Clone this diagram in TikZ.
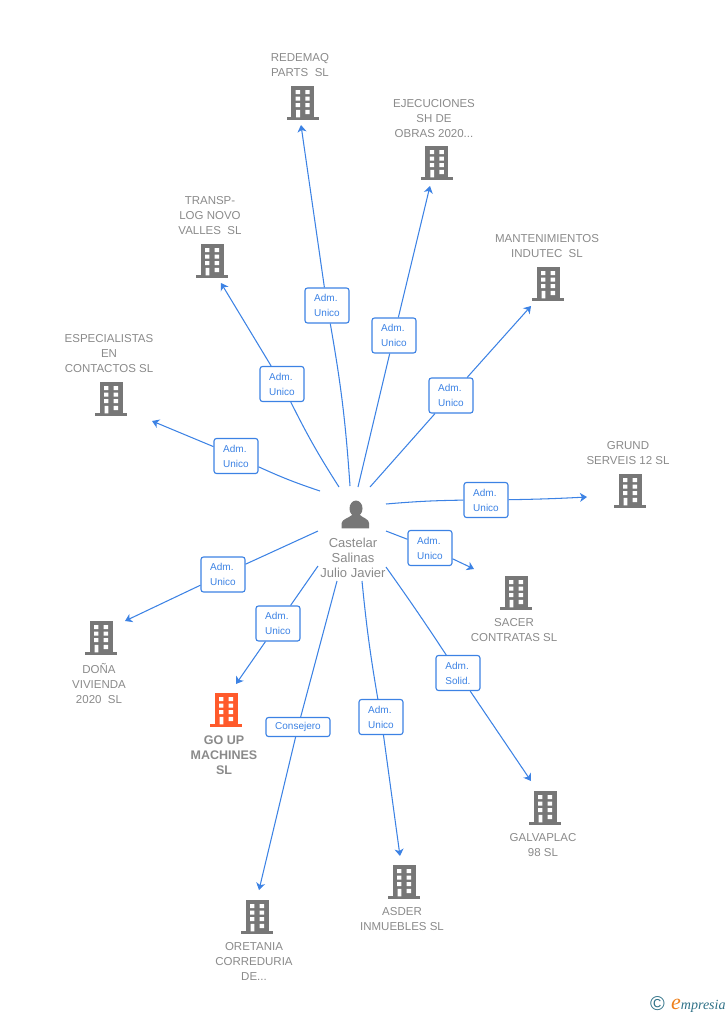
\documentclass[tikz,border=0pt]{standalone}
\usetikzlibrary{arrows.meta}
\usepackage{fontspec}
\setmainfont{Liberation Sans}
\newfontfamily\logofont{Liberation Serif}
\definecolor{linkblue}{HTML}{3C82E4}
\definecolor{firmgray}{HTML}{777777}
\definecolor{textgray}{HTML}{8A8A8A}
\definecolor{mainred}{HTML}{FF5A2B}
\definecolor{logoteal}{HTML}{2F7187}
\definecolor{logoorange}{HTML}{EE7F1A}
\tikzset{
    firm/.pic={
        \fill[pic actions] (-11.5,-33.8) rectangle (11.5,-2.7);
        \fill[pic actions] (-16,-2.7) rectangle (16,0);
        \fill[white] (-7,-29.8) rectangle (-2.7,-26) (2.6,-29.8) rectangle (7,-26);
        \fill[white] (-7,-23.4) rectangle (-2.7,-19.4) (2.6,-23.4) rectangle (7,-19.4);
        \fill[white] (-7,-16.9) rectangle (-2.7,-12.9) (2.6,-16.9) rectangle (7,-12.9);
        \fill[white] (-6.5,-10.2) rectangle (-2.7,-2.7) (2.6,-10.2) rectangle (7,-6);
    }
}
\begin{document}
\begin{tikzpicture}[
    x=1pt, y=-1pt,
    adm/.style={draw=linkblue, fill=white, rounded corners=2.5pt, line width=1.1pt, text=linkblue,
        minimum width=44pt, minimum height=35pt, inner sep=0pt, align=left,
        font=\fontsize{10}{15}\selectfont},
    cons/.style={adm, minimum width=64pt, minimum height=19pt},
    arr/.style={-{Stealth[length=7pt, width=9pt, inset=2pt]}, draw=linkblue, line width=1.05pt},
    lnk/.style={draw=linkblue, line width=1.05pt},
    firmname/.style={text=textgray, inner sep=0pt, align=center, font=\fontsize{11.5}{15}\selectfont},
]
    \useasboundingbox (0,0) rectangle (728,1015);

    % Person in the middle
    \fill[firmgray] (356,508.5) ellipse (6.5 and 8);
    \fill[firmgray] (341.7,528.3) -- (341.7,523) .. controls (342,519) and (349,518) .. (352,515)
        -- (360,515) .. controls (363,518) and (369,519) .. (369,523) -- (369,528.3) -- cycle;
    \node[firmname, font=\fontsize{13}{15}\selectfont] (boss) at (353,557.5) {Castelar\\Salinas\\Julio Javier};

    % Companies
    \pic[firmgray] (fa) at (302.7,120) {firm};
    \pic[firmgray] (fb) at (436.8,180) {firm};
    \pic[firmgray] (fc) at (548,301) {firm};
    \pic[firmgray] (fd) at (630,508) {firm};
    \pic[firmgray] (fe) at (516,610) {firm};
    \pic[firmgray] (ff) at (545,825) {firm};
    \pic[firmgray] (fg) at (404,899) {firm};
    \pic[firmgray] (fh) at (257,934) {firm};
    \pic[mainred] (fi) at (226,727) {firm};
    \pic[firmgray] (fj) at (101,655) {firm};
    \pic[firmgray] (fk) at (111,416) {firm};
    \pic[firmgray] (fl) at (212,278) {firm};

    % Company names
    \node[firmname] (na) at (300,65) {REDEMAQ\\PARTS\ \ SL};
    \node[firmname] (nb) at (434,118.5) {EJECUCIONES\\SH DE\\OBRAS 2020...};
    \node[firmname] (nc) at (547,246) {MANTENIMIENTOS\\INDUTEC\ \ SL};
    \node[firmname] (nd) at (628,453) {GRUND\\SERVEIS 12 SL};
    \node[firmname] (ne) at (514,630) {SACER\\CONTRATAS SL};
    \node[firmname] (nf) at (543,845) {GALVAPLAC\\98 SL};
    \node[firmname] (ng) at (402,919) {ASDER\\INMUEBLES SL};
    \node[firmname] (nh) at (254,961.5) {ORETANIA\\CORREDURIA\\DE...};
    \node[firmname, font=\fontsize{12.5}{15}\selectfont\bfseries] (ni) at (224,755.5) {GO UP\\MACHINES\\SL};
    \node[firmname] (nj) at (99,683.5) {DOÑA\\VIVIENDA\\2020\ \ SL};
    \node[firmname] (nk) at (109,353.5) {ESPECIALISTAS\\EN\\CONTACTOS SL};
    \node[firmname] (nl) at (210,215.5) {TRANSP-\\LOG NOVO\\VALLES\ \ SL};

    % Free ends of the connectors
    \coordinate (sa) at (350,486);
    \coordinate (sb) at (358,487);
    \coordinate (sc) at (370,487);
    \coordinate (sd) at (386,504);
    \coordinate (se) at (386,531);
    \coordinate (sf) at (386,567);
    \coordinate (sg) at (362,581);
    \coordinate (sh) at (337,581);
    \coordinate (si) at (318,566);
    \coordinate (sj) at (318,531);
    \coordinate (sk) at (320,491);
    \coordinate (sl) at (339,487);

    \coordinate (ea) at (301,125);
    \coordinate (eb) at (430,186);
    \coordinate (ec) at (531,306);
    \coordinate (ed) at (587,497);
    \coordinate (ee) at (474,569);
    \coordinate (ef) at (531,781);
    \coordinate (eg) at (400,856);
    \coordinate (eh) at (259,890);
    \coordinate (ei) at (236,684);
    \coordinate (ej) at (125,621);
    \coordinate (ek) at (152,421);
    \coordinate (el) at (221,283);

    % Role boxes
    \node[adm] (ra) at (327,305.5) {Adm.\\Unico};
    \node[adm] (rb) at (394,335.5) {Adm.\\Unico};
    \node[adm] (rc) at (451,395.5) {Adm.\\Unico};
    \node[adm] (rd) at (486,500) {Adm.\\Unico};
    \node[adm] (re) at (430,548) {Adm.\\Unico};
    \node[adm] (rf) at (458,673) {Adm.\\Solid.};
    \node[adm] (rg) at (381,717) {Adm.\\Unico};
    \node[cons] (rh) at (298,727) {Consejero};
    \node[adm] (ri) at (278,623.5) {Adm.\\Unico};
    \node[adm] (rj) at (223,574.5) {Adm.\\Unico};
    \node[adm] (rk) at (236,456) {Adm.\\Unico};
    \node[adm] (rl) at (282,384) {Adm.\\Unico};

    % Connectors
    \draw[lnk] (sa) to[bend right=3] (ra);
    \draw[arr] (ra) -- (ea);
    \draw[lnk] (sb) -- (rb);
    \draw[arr] (rb) -- (eb);
    \draw[lnk] (sc) -- (rc);
    \draw[arr] (rc) -- (ec);
    \draw[lnk] (sd) to[bend left=2] (rd);
    \draw[arr] (rd) to[bend right=1] (ed);
    \draw[lnk] (se) -- (re);
    \draw[arr] (re) -- (ee);
    \draw[lnk] (sf) to[bend left=1] (rf);
    \draw[arr] (rf) -- (ef);
    \draw[lnk] (sg) to[bend right=2] (rg);
    \draw[arr] (rg) -- (eg);
    \draw[lnk] (sh) -- (rh);
    \draw[arr] (rh) -- (eh);
    \draw[lnk] (si) -- (ri);
    \draw[arr] (ri) -- (ei);
    \draw[lnk] (sj) -- (rj);
    \draw[arr] (rj) -- (ej);
    \draw[lnk] (sk) to[bend left=3] (rk);
    \draw[arr] (rk) -- (ek);
    \draw[lnk] (sl) to[bend left=3] (rl);
    \draw[arr] (rl) -- (el);

    % Logo
    \node[text=logoteal, inner sep=0pt, font=\fontsize{20}{20}\selectfont] (copyr) at (657.5,1004) {\textcopyright};
    \node[anchor=base west, inner sep=0pt, font=\logofont\itshape\fontsize{14}{15}\selectfont, text=logoteal] (logo) at (671,1009)
        {\textcolor{logoorange}{\fontsize{22}{22}\selectfont e}mpresia};
\end{tikzpicture}
\end{document}
